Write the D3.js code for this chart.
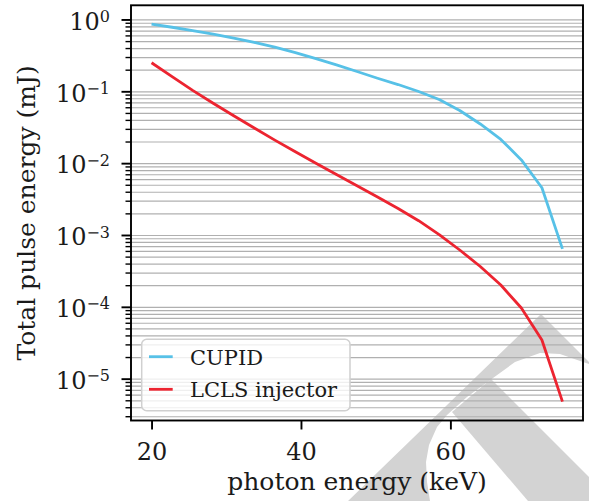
<!DOCTYPE html>
<html>
<head>
<meta charset="utf-8">
<script src="https://cdn.jsdelivr.net/npm/d3@7/dist/d3.min.js"></script>
<style>
  body { margin: 0; background: #ffffff; }
  svg { display: block; }
</style>
</head>
<body>
<div id="container"></div>
<script>
"use strict";

// Data (photon energy in keV, pulse energy in mJ).
const photonEnergy = [20, 22.75, 25.5, 28.25, 31, 33.75, 36.5, 39.25, 42, 44.75, 47.5,
  50.25, 53, 55.75, 58.5, 61.25, 64, 66.75, 69.5, 72.25, 75];
const cupidEnergy = [0.860, 0.779, 0.701, 0.625, 0.551, 0.481, 0.411, 0.345, 0.2845, 0.2328, 0.1888,
  0.152, 0.1242, 0.0993, 0.0769, 0.0541, 0.0351, 0.0214, 0.0111, 0.00454, 0.00064];
const lclsEnergy = [0.250, 0.1597, 0.1032, 0.0683, 0.0456, 0.0308, 0.02094, 0.01439, 0.00995, 0.00693, 0.00484,
  0.00338, 0.00234, 0.00158, 0.001014, 0.000618, 0.000364, 0.000201, 0.0000964, 0.0000346, 0.00000479];

const seriesNames = ["CUPID", "LCLS injector"];
const seriesColors = ["#57c1e7", "#ec2430"];
const xTicks = [20, 40, 60];
const yExponents = [0, -1, -2, -3, -4, -5];

const width = 589;
const height = 501;
const margin = { top: 5.3, right: 6, bottom: 80.5, left: 131 };
const font = "'DejaVu Serif', serif";

const svg = d3.select("#container")
  .append("svg")
  .attr("width", width)
  .attr("height", height)
  .style("font-family", font);

svg.append("rect").attr("width", width).attr("height", height).attr("fill", "#ffffff");

// Grey watermark in the lower right corner of the page.
const watermarkPaths = [
  "M348,501 L541,314 L589,362 L589,364 L583,362 L560,354 L540,353 L515,362 L493,378 L467,397 " +
    "L447,415 L437,427 L429,445 L426,462 L427,482 L430,501 Z",
  "M491,379 L589,477 L589,501 L528,501 L452,412 Z"
];
svg.append("g")
  .selectAll("path")
  .data(watermarkPaths)
  .join("path")
  .attr("d", (d) => d)
  .attr("fill", "#d3d3d3");

// Scales: 5% padding like matplotlib, in log space for y.
const xPad = (d3.max(photonEnergy) - d3.min(photonEnergy)) * 0.05;
const x = d3.scaleLinear()
  .domain([d3.min(photonEnergy) - xPad, d3.max(photonEnergy) + xPad])
  .range([margin.left, width - margin.right]);

const allValues = cupidEnergy.concat(lclsEnergy);
const logLo = Math.log10(d3.min(allValues));
const logHi = Math.log10(d3.max(allValues));
const logPad = (logHi - logLo) * 0.05;
const y = d3.scaleLog()
  .domain([Math.pow(10, logLo - logPad), Math.pow(10, logHi + logPad)])
  .range([height - margin.bottom, margin.top]);

const plotW = width - margin.right - margin.left;
const majorValues = yExponents.map((e) => Math.pow(10, e));
const minorValues = [];
for (const e of [1, 0, -1, -2, -3, -4, -5, -6]) {
  for (let m = 2; m <= 9; m++) {
    const v = m * Math.pow(10, e - 1);
    if (v >= y.domain()[0] && v <= y.domain()[1]) minorValues.push(v);
  }
}

// Horizontal grid for major and minor ticks.
svg.append("g")
  .attr("transform", `translate(${margin.left},0)`)
  .call(d3.axisLeft(y).tickValues(majorValues.concat(minorValues)).tickSize(-plotW).tickFormat(""))
  .call((g) => g.select(".domain").remove())
  .selectAll("line")
  .attr("stroke", "#b0b0b0")
  .attr("stroke-width", 1.2);

// Lines.
const line = d3.line()
  .x((d) => x(d[0]))
  .y((d) => y(d[1]));

[cupidEnergy, lclsEnergy].forEach((values, i) => {
  svg.append("path")
    .datum(photonEnergy.map((e, k) => [e, values[k]]))
    .attr("fill", "none")
    .attr("stroke", seriesColors[i])
    .attr("stroke-width", 2.8)
    .attr("stroke-linejoin", "round")
    .attr("d", line);
});

// Frame.
svg.append("rect")
  .attr("x", margin.left)
  .attr("y", margin.top)
  .attr("width", plotW)
  .attr("height", height - margin.bottom - margin.top)
  .attr("fill", "none")
  .attr("stroke", "#000000")
  .attr("stroke-width", 1.9);

// x axis.
svg.append("g")
  .attr("transform", `translate(0,${height - margin.bottom})`)
  .call(d3.axisBottom(x).tickValues(xTicks).tickSize(9).tickPadding(13).tickFormat(d3.format("d")))
  .call((g) => g.select(".domain").remove())
  .call((g) => g.selectAll("line").attr("stroke", "#000").attr("stroke-width", 1.9))
  .selectAll("text")
  .attr("fill", "#1a1a1a")
  .style("font-family", font)
  .style("font-size", "24px");

// y axis minor ticks.
svg.append("g")
  .attr("transform", `translate(${margin.left},0)`)
  .call(d3.axisLeft(y).tickValues(minorValues).tickSize(5.5).tickFormat(""))
  .call((g) => g.select(".domain").remove())
  .selectAll("line")
  .attr("stroke", "#000")
  .attr("stroke-width", 1.4);

// y axis major ticks with 10^n labels.
svg.append("g")
  .attr("transform", `translate(${margin.left},0)`)
  .call(d3.axisLeft(y).tickValues(majorValues).tickSize(9.5).tickPadding(11.5).tickFormat(""))
  .call((g) => g.select(".domain").remove())
  .call((g) => g.selectAll("line").attr("stroke", "#000").attr("stroke-width", 1.9))
  .selectAll(".tick text")
  .attr("fill", "#1a1a1a")
  .attr("dy", "9.7")
  .style("font-family", font)
  .style("font-size", "24px")
  .each(function (d) {
    const t = d3.select(this);
    const exp = Math.round(Math.log10(d));
    t.append("tspan").text("10");
    t.append("tspan")
      .attr("dy", -7.6)
      .style("font-size", "16px")
      .text(exp < 0 ? "\u2212" + Math.abs(exp) : String(exp));
  });

// Axis titles.
svg.append("text")
  .attr("x", (margin.left + width - margin.right) / 2)
  .attr("y", 490)
  .attr("text-anchor", "middle")
  .attr("fill", "#1a1a1a")
  .style("font-size", "25px")
  .text("photon energy (keV)");

svg.append("text")
  .attr("transform", `translate(35,${(margin.top + height - margin.bottom) / 2}) rotate(-90)`)
  .attr("text-anchor", "middle")
  .attr("fill", "#1a1a1a")
  .style("font-size", "25px")
  .text("Total pulse energy (mJ)");

// Legend.
const legend = svg.append("g").attr("transform", "translate(141.7,339.3)");
legend.append("rect")
  .attr("width", 208.3)
  .attr("height", 71.4)
  .attr("rx", 5)
  .attr("fill", "#ffffff")
  .attr("fill-opacity", 0.8)
  .attr("stroke", "#d0d0d0")
  .attr("stroke-width", 1.5);

seriesNames.forEach((name, i) => {
  const row = legend.append("g").attr("transform", `translate(0,${17.4 + i * 32.6})`);
  row.append("line")
    .attr("x1", 7.3)
    .attr("x2", 31)
    .attr("stroke", seriesColors[i])
    .attr("stroke-width", 2.8);
  row.append("text")
    .attr("x", 48.3)
    .attr("y", 8)
    .attr("fill", "#1a1a1a")
    .style("font-size", "21px")
    .text(name);
});
</script>
</body>
</html>
